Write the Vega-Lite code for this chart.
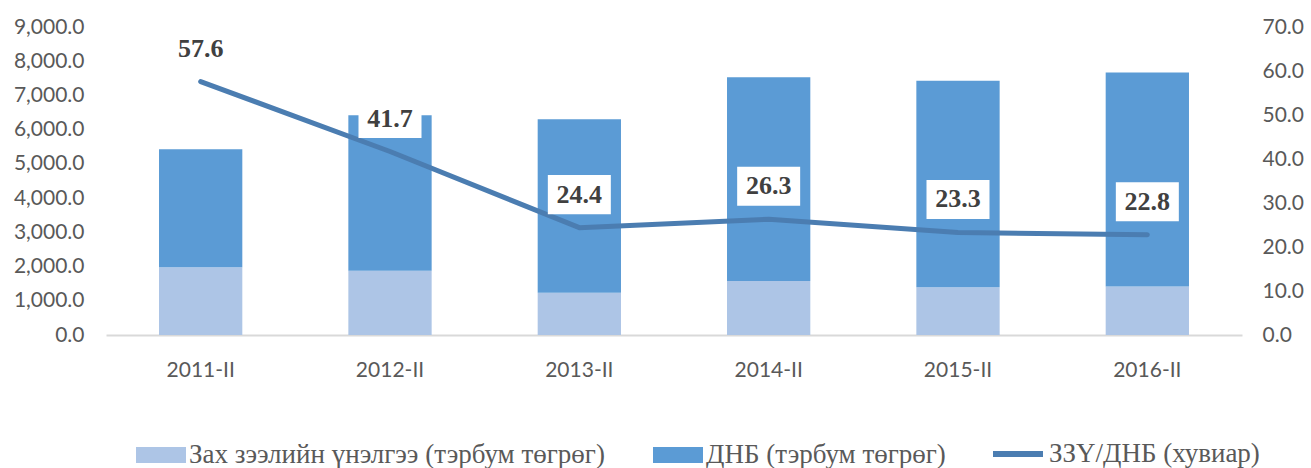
{
  "$schema": "https://vega.github.io/schema/vega-lite/v6.json",
  "width": 1136,
  "height": 308,
  "autosize": "none",
  "padding": {"left": 106, "top": 27, "right": 69, "bottom": 133},
  "background": "white",
  "config": {"view": {"stroke": null}, "font": "Lato", "legend": {"labelFont": "Liberation Serif"}},
  "datasets": {
    "bars": [
      {"period": "2011-II", "series": "Зах зээлийн үнэлгээ (тэрбум төгрөг)", "value": 1979},
      {"period": "2011-II", "series": "ДНБ (тэрбум төгрөг)", "value": 3451},
      {"period": "2012-II", "series": "Зах зээлийн үнэлгээ (тэрбум төгрөг)", "value": 1880},
      {"period": "2012-II", "series": "ДНБ (тэрбум төгрөг)", "value": 4540},
      {"period": "2013-II", "series": "Зах зээлийн үнэлгээ (тэрбум төгрөг)", "value": 1237},
      {"period": "2013-II", "series": "ДНБ (тэрбум төгрөг)", "value": 5070},
      {"period": "2014-II", "series": "Зах зээлийн үнэлгээ (тэрбум төгрөг)", "value": 1579},
      {"period": "2014-II", "series": "ДНБ (тэрбум төгрөг)", "value": 5956},
      {"period": "2015-II", "series": "Зах зээлийн үнэлгээ (тэрбум төгрөг)", "value": 1395},
      {"period": "2015-II", "series": "ДНБ (тэрбум төгрөг)", "value": 6032},
      {"period": "2016-II", "series": "Зах зээлийн үнэлгээ (тэрбум төгрөг)", "value": 1420},
      {"period": "2016-II", "series": "ДНБ (тэрбум төгрөг)", "value": 6250}
    ],
    "ratio": [
      {"period": "2011-II", "ratio": 57.6},
      {"period": "2012-II", "ratio": 41.7},
      {"period": "2013-II", "ratio": 24.4},
      {"period": "2014-II", "ratio": 26.3},
      {"period": "2015-II", "ratio": 23.3},
      {"period": "2016-II", "ratio": 22.8}
    ]
  },
  "layer": [
    {
      "data": {"name": "bars"},
      "mark": {"type": "bar"},
      "encoding": {
        "x": {
          "field": "period",
          "type": "nominal",
          "sort": null,
          "scale": {"paddingInner": 0.56, "paddingOuter": 0.28},
          "axis": {
            "title": null,
            "labelAngle": 0,
            "ticks": false,
            "domainColor": "#d9d9d9",
            "domainWidth": 2,
            "labelPadding": 24,
            "labelFont": "Lato",
            "labelFontSize": 21,
            "labelColor": "#595959"
          }
        },
        "y": {
          "field": "value",
          "type": "quantitative",
          "stack": "zero",
          "scale": {"domain": [0, 9000], "nice": false},
          "axis": {
            "orient": "left",
            "title": null,
            "values": [0, 1000, 2000, 3000, 4000, 5000, 6000, 7000, 8000, 9000],
            "format": ",.1f",
            "grid": false,
            "domain": false,
            "ticks": false,
            "labelPadding": 22,
            "labelFont": "Lato",
            "labelFontSize": 21,
            "labelColor": "#595959"
          }
        },
        "color": {
          "field": "series",
          "type": "nominal",
          "scale": {
            "domain": ["Зах зээлийн үнэлгээ (тэрбум төгрөг)", "ДНБ (тэрбум төгрөг)"],
            "range": ["#adc5e6", "#5b9bd5"]
          },
          "legend": {
            "orient": "none",
            "legendX": 30,
            "legendY": 403,
            "direction": "horizontal",
            "title": null,
            "symbolType": "M-1,-0.32H1V0.32H-1Z",
            "symbolSize": 2500,
            "symbolStrokeWidth": 0,
            "symbolOpacity": 1,
            "labelFont": "Liberation Serif",
            "labelFontSize": 27,
            "labelColor": "#595959",
            "labelOffset": 3,
            "labelLimit": 0,
            "columnPadding": 48,
            "padding": 0
          }
        },
        "order": {"field": "series", "sort": "descending"}
      }
    },
    {
      "data": {"name": "ratio"},
      "encoding": {
        "x": {"field": "period", "type": "nominal", "sort": null},
        "y": {
          "field": "ratio",
          "type": "quantitative",
          "scale": {"domain": [0, 70], "nice": false},
          "axis": {
            "orient": "right",
            "title": null,
            "values": [0, 10, 20, 30, 40, 50, 60, 70],
            "format": ".1f",
            "grid": false,
            "domain": false,
            "ticks": false,
            "labelPadding": 20,
            "labelFont": "Lato",
            "labelFontSize": 21,
            "labelColor": "#595959"
          }
        }
      },
      "layer": [
        {
          "mark": {"type": "line", "strokeWidth": 5, "strokeCap": "round", "strokeJoin": "round"},
          "encoding": {
            "stroke": {
              "datum": "ЗЗҮ/ДНБ (хувиар)",
              "type": "nominal",
              "scale": {"range": ["#4b7db1"]},
              "legend": {
                "orient": "none",
                "legendX": 884,
                "legendY": 399,
                "direction": "horizontal",
                "title": null,
                "symbolType": "stroke",
                "symbolSize": 2500,
                "symbolStrokeWidth": 6,
                "labelFont": "Liberation Serif",
                "labelFontSize": 27,
                "labelColor": "#595959",
                "labelOffset": 3,
                "labelLimit": 0,
                "padding": 0
              }
            }
          }
        },
        {
          "mark": {"type": "point", "shape": "M-1,-0.62H1V0.62H-1Z", "filled": true, "fill": "white", "opacity": 1, "size": 3969, "strokeWidth": 0, "yOffset": -33},
          "encoding": {}
        },
        {
          "mark": {"type": "text", "font": "Liberation Serif", "fontWeight": "bold", "fontSize": 26, "color": "#404040", "baseline": "middle", "yOffset": -33},
          "encoding": {
            "text": {"field": "ratio", "type": "quantitative", "format": ".1f"}
          }
        }
      ]
    }
  ],
  "resolve": {"scale": {"y": "independent"}}
}
